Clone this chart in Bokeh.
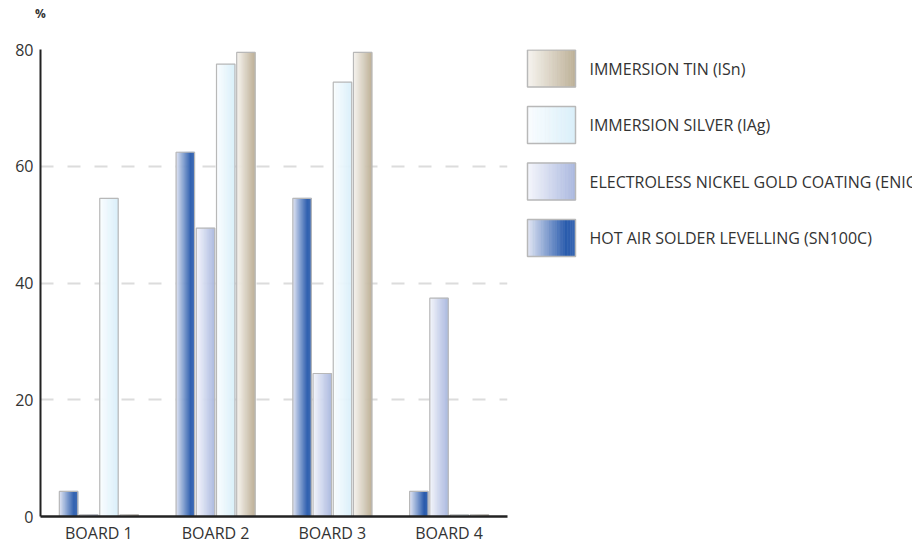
import numpy as np
from bokeh.plotting import figure
from bokeh.models import Range1d, FixedTicker, LinearAxis
from bokeh.layouts import row
from bokeh.core.properties import value
from bokeh.embed import file_html
from bokeh.resources import INLINE

# ---- data ----
boards = ["BOARD 1", "BOARD 2", "BOARD 3", "BOARD 4"]
series_names = [
    "HOT AIR SOLDER LEVELLING (SN100C)",
    "ELECTROLESS NICKEL GOLD COATING (ENIG)",
    "IMMERSION SILVER (IAg)",
    "IMMERSION TIN (ISn)",
]
hasl = [4.3, 62.4, 54.5, 4.3]
enig = [0.3, 49.4, 24.5, 37.4]
iag = [54.5, 77.5, 74.4, 0.3]
isn = [0.3, 79.5, 79.5, 0.3]
y_ticks = [0, 20, 40, 60, 80]
unit_label = "%"

values = [hasl, enig, iag, isn]

# ---- styles ----
gradients = [
    [(0.0, "#e4e8f5"), (0.8, "#2a5cad"), (1.0, "#3766b3")],
    [(0.0, "#f6f7fc"), (1.0, "#aab8df")],
    [(0.0, "#fbfdff"), (1.0, "#d9eff9")],
    [(0.0, "#f7f5f0"), (1.0, "#bdb097")],
]
FONT = "Open Sans"
TXT = "#333333"
N = 18
W_MAIN, W_LEG, H = 512, 400, 546
TOP, BOTTOM = 49, 30


def hex2rgb(h):
    h = h.lstrip("#")
    return np.array([int(h[i:i + 2], 16) for i in (0, 2, 4)], dtype=float)


def interp(stops, t):
    for (t0, c0), (t1, c1) in zip(stops[:-1], stops[1:]):
        if t <= t1:
            f = (t - t0) / (t1 - t0) if t1 > t0 else 0
            c = hex2rgb(c0) * (1 - f) + hex2rgb(c1) * f
            return "#%02x%02x%02x" % tuple(int(round(v)) for v in c)
    return stops[-1][1]


# ---- main chart ----
p = figure(width=W_MAIN, height=H, x_range=Range1d(0, len(boards)), y_range=Range1d(0, y_ticks[-1]),
           output_backend="svg", toolbar_location=None, title=None,
           min_border_left=40, min_border_right=5, min_border_top=TOP, min_border_bottom=BOTTOM)
p.outline_line_color = None
p.background_fill_color = "white"
p.xgrid.visible = False
p.ygrid.grid_line_color = "#dcdcdc"
p.ygrid.grid_line_width = 2
p.ygrid.grid_line_dash = "13 14"

p.yaxis.ticker = FixedTicker(ticks=y_ticks)
p.yaxis.axis_line_color = "#222222"
p.yaxis.axis_line_width = 2
p.yaxis.major_tick_line_color = None
p.yaxis.major_tick_out = 0
p.yaxis.major_tick_in = 0
p.yaxis.minor_tick_line_color = None
p.yaxis.major_label_text_font = FONT
p.yaxis.major_label_text_font_size = "16px"
p.yaxis.major_label_text_color = TXT
p.yaxis.major_label_standoff = 7

centers = [i + 0.5 for i in range(len(boards))]
p.xaxis.ticker = FixedTicker(ticks=centers)
p.xaxis.major_label_overrides = {c: b for c, b in zip(centers, boards)}
p.xaxis.axis_line_color = "#222222"
p.xaxis.axis_line_width = 2.5
p.xaxis.major_tick_line_color = None
p.xaxis.major_tick_out = 0
p.xaxis.major_tick_in = 0
p.xaxis.minor_tick_line_color = None
p.xaxis.major_label_text_font = FONT
p.xaxis.major_label_text_font_size = "16px"
p.xaxis.major_label_text_color = TXT
p.xaxis.major_label_standoff = 5

# unit label "%" above the top of the y axis
top_axis = LinearAxis(ticker=FixedTicker(ticks=[0]), major_label_overrides={0: unit_label},
                      axis_line_color=None, major_tick_line_color=None, minor_tick_line_color=None,
                      major_tick_out=0, major_tick_in=0,
                      major_label_text_font=FONT, major_label_text_font_size="12px",
                      major_label_text_font_style="bold", major_label_text_color=TXT,
                      major_label_standoff=28)
p.add_layout(top_axis, "above")

bar_w = 0.158
step = 0.173
nser = len(values)
for si, vals in enumerate(values):
    L, R, T, C = [], [], [], []
    OL, OR, OT = [], [], []
    for bj, v in enumerate(vals):
        c = centers[bj] + (si - (nser - 1) / 2) * step
        left = c - bar_w / 2
        for k in range(N):
            L.append(left + k * bar_w / N)
            R.append(left + (k + 1) * bar_w / N)
            T.append(v)
            C.append(interp(gradients[si], (k + 0.5) / N))
        OL.append(left)
        OR.append(left + bar_w)
        OT.append(v)
    p.quad(left=L, right=R, top=T, bottom=0, fill_color=C, line_color=C, line_width=0.6)
    p.quad(left=OL, right=OR, top=OT, bottom=0, fill_color=None, line_color="#b8b8b8", line_width=1.2)

# ---- legend panel (its frame is aligned with the main frame; 1 data unit = 1 px) ----
frame_h = H - TOP - BOTTOM
lg = figure(width=W_LEG, height=H, x_range=Range1d(0, W_LEG), y_range=Range1d(TOP + frame_h, TOP),
            output_backend="svg", toolbar_location=None, title=None,
            min_border_left=0, min_border_right=0, min_border_top=TOP, min_border_bottom=BOTTOM,
            x_axis_location=None, y_axis_location=None)
lg.outline_line_color = None
lg.grid.visible = False

order = list(range(nser))[::-1]
box_l, box_w, box_h, top0, gap = 15, 48, 37, 49.5, 56.5
for r, si in enumerate(order):
    top = top0 + r * gap
    L, R, C = [], [], []
    for k in range(N):
        L.append(box_l + k * box_w / N)
        R.append(box_l + (k + 1) * box_w / N)
        C.append(interp(gradients[si], (k + 0.5) / N))
    lg.quad(left=L, right=R, top=top, bottom=top + box_h, fill_color=C, line_color=C, line_width=0.6)
    lg.quad(left=[box_l], right=[box_l + box_w], top=[top], bottom=[top + box_h],
            fill_color=None, line_color="#b8b8b8", line_width=1.5)
    lg.text(x=[box_l + box_w + 14], y=[top + box_h / 2], text=[series_names[si]],
            text_font=value(FONT), text_font_size="16px", text_color=TXT,
            text_baseline="middle", text_align="left")

layout = row(p, lg)
open("out.html", "w").write(file_html(layout, INLINE))
